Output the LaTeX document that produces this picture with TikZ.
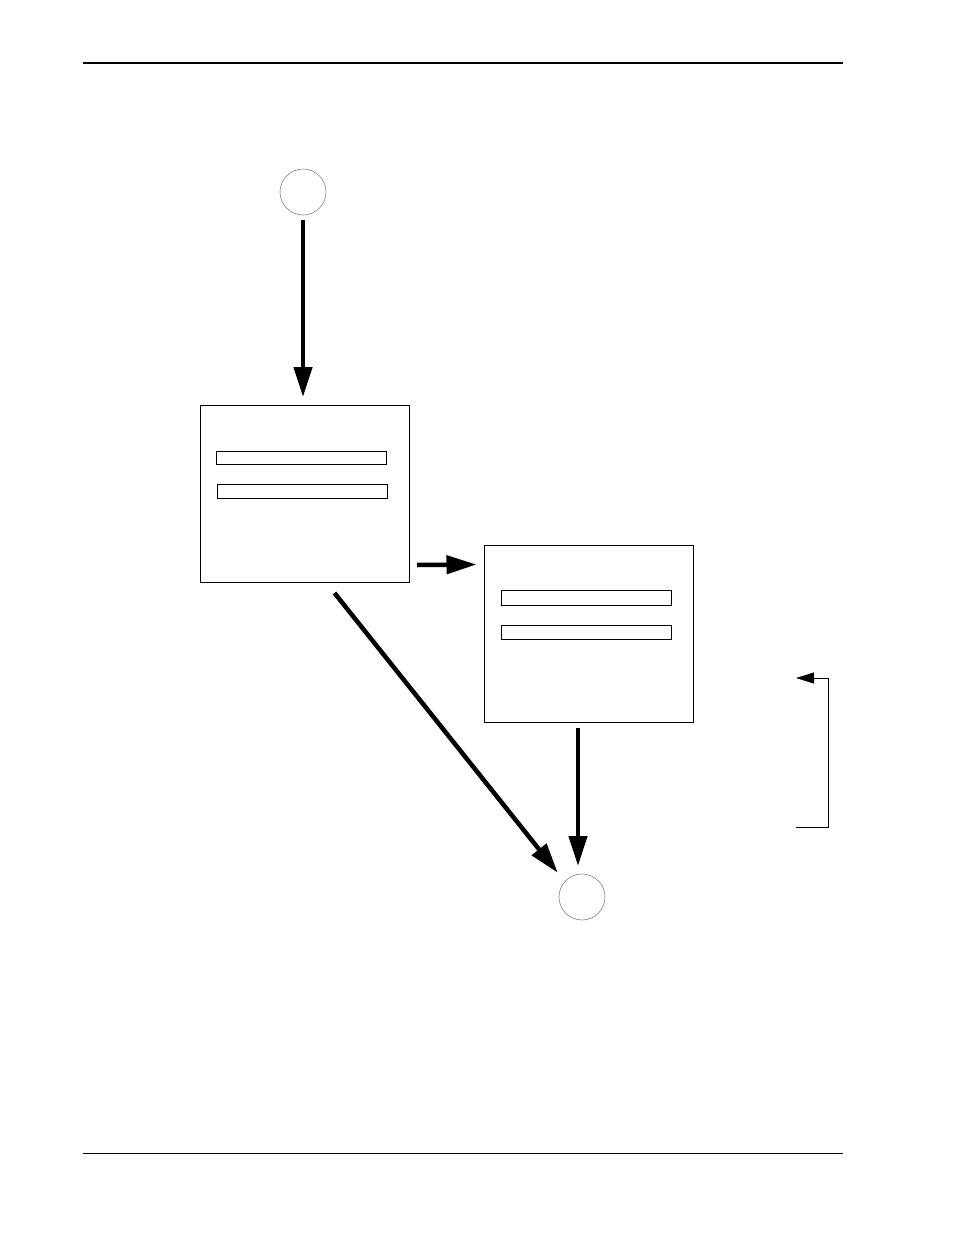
\documentclass[tikz,border=0pt]{standalone}
\usetikzlibrary{arrows.meta,positioning,calc}
\begin{document}
\begin{tikzpicture}[x=1pt, y=-1pt,
        state/.style={circle, draw=gray, line width=0.6pt, minimum size=46pt, inner sep=0pt, outer sep=0pt},
        panel/.style={draw, line width=1pt, minimum width=209pt, minimum height=177pt, inner sep=0pt, outer sep=0pt},
        field/.style={draw, line width=0.9pt, minimum width=170pt, minimum height=14pt, inner sep=0pt, outer sep=0pt},
        flow/.style={draw, line width=4.5pt, -{Triangle[length=30pt, width=18pt]}},
        back/.style={draw, line width=0.9pt, -{Triangle[length=18pt, width=11pt]}}]
        \useasboundingbox (0,0) rectangle (954,1235);
        %page rules
        \draw[line width=2pt] (83,63) -- (843,63);
        \draw[line width=1pt] (83,1153) -- (843,1153);
        %nodes
        \node[state] (start) at (303,192) {};
        \node[panel] (menu) at (304.5,493.5) {};
        \node[field, minimum height=13pt] (menuA) at (301,457.5) {};
        \node[field] (menuB) at (302,491) {};
        \node[panel] (dialog) at (589,634) {};
        \node[field, minimum height=15pt] (dialogA) at (586,597.5) {};
        \node[field] (dialogB) at (586,632) {};
        \node[state] (end) at (582,897) {};
        \coordinate (backlow) at (796,827);
        \coordinate (backhigh) at (796,678);
        %edges
        \path[flow] ([yshift=-5pt]start.south) -- ([yshift=8pt]start.south |- menu.north);
        \path[flow] ([xshift=8pt, yshift=17pt]menu.south east) -- ([xshift=-8pt, yshift=-19pt]dialog.north west);
        \path[flow] ([xshift=-11pt, yshift=-5pt]dialog.south) -- ([xshift=-4pt, yshift=8pt]end.north);
        \path[flow] ([xshift=30pt, yshift=-11pt]menu.south) -- ([xshift=-8pt, yshift=8pt]end.north west);
        \path[back] (backlow) -- ++(32,0) |- (backhigh);
      \end{tikzpicture}
\end{document}
